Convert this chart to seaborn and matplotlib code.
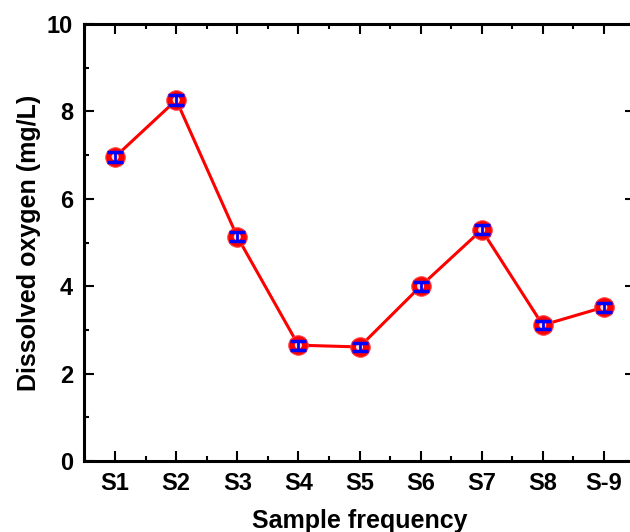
import matplotlib
matplotlib.use("Agg")
import matplotlib.pyplot as plt
import seaborn as sns
import pandas as pd
import numpy as np
from matplotlib.ticker import MultipleLocator

samples = ["S1", "S2", "S3", "S4", "S5", "S6", "S7", "S8", "S-9"]
oxygen = [6.96, 8.26, 5.13, 2.65, 2.61, 4.00, 5.29, 3.11, 3.52]
errors = [0.12, 0.12, 0.10, 0.10, 0.10, 0.10, 0.10, 0.10, 0.10]

sns.set_theme(style="ticks")
plt.rcParams["font.family"] = ["Liberation Sans", "DejaVu Sans"]
plt.rcParams["font.weight"] = "bold"
plt.rcParams["text.color"] = "black"
plt.rcParams["axes.labelcolor"] = "black"

df = pd.DataFrame({"pos": np.arange(1, len(samples) + 1), "sample": samples,
                   "oxygen": oxygen, "err": errors})

fig = plt.figure(figsize=(6.3, 5.32), dpi=100)
ax = fig.add_axes([84 / 630, 71 / 532, 551 / 630, 437 / 532])

sns.lineplot(data=df, x="pos", y="oxygen", ax=ax, color="red", linewidth=2.2,
             marker="o", markersize=14, markerfacecolor="red",
             markeredgecolor="#ff4040", markeredgewidth=0.8, zorder=3)
ax.scatter(df["pos"], df["oxygen"], s=26, color="#ffd8d8", marker="o",
           edgecolors="none", zorder=4)
ax.errorbar(df["pos"], df["oxygen"], yerr=df["err"], fmt="none", ecolor="blue",
            elinewidth=2.0, capsize=6, capthick=2.5, zorder=5)

ax.set_xlim(0.49, 9.51)
ax.set_ylim(0, 10)
ax.set_xticks(df["pos"])
ax.set_xticklabels(samples)
ax.xaxis.set_minor_locator(MultipleLocator(0.5))
ax.yaxis.set_major_locator(MultipleLocator(2))
ax.yaxis.set_minor_locator(MultipleLocator(1))
ax.tick_params(which="both", direction="in", top=True, right=True, width=1.5,
               labelsize=17, pad=8, color="black", labelcolor="black")
ax.tick_params(which="major", length=7)
ax.tick_params(which="minor", length=3.5)
for lab in ax.get_xticklabels() + ax.get_yticklabels():
    lab.set_fontweight("bold")
for sp in ax.spines.values():
    sp.set_linewidth(2.2)
    sp.set_color("black")

ax.set_xlabel("Sample frequency", fontsize=18, fontweight="bold", labelpad=10,
              color="black")
ax.set_ylabel("Dissolved oxygen (mg/L)", fontsize=18, fontweight="bold",
              labelpad=4, color="black")

fig.savefig("out.png", dpi=100)
